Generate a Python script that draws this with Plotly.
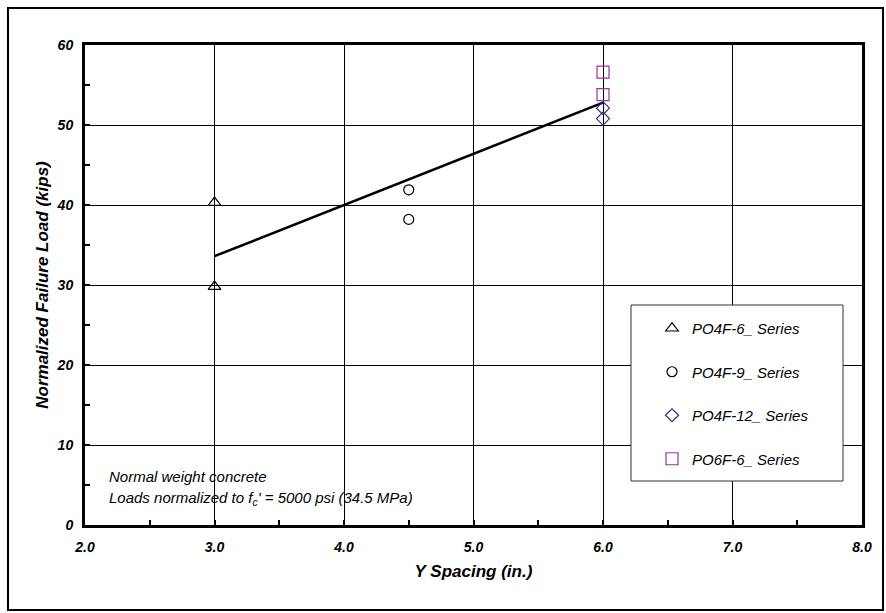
import plotly.graph_objects as go

# ---- data ----
po4f6_x = [3.0, 3.0]
po4f6_y = [40.3, 29.8]
po4f9_x = [4.5, 4.5]
po4f9_y = [41.9, 38.2]
po4f12_x = [6.0, 6.0]
po4f12_y = [52.1, 50.8]
po6f6_x = [6.0, 6.0]
po6f6_y = [56.6, 53.8]
trend_x = [3.0, 6.0]
trend_y = [33.6, 52.8]

x_ticks = [2, 3, 4, 5, 6, 7, 8]
x_tick_labels = ["2.0", "3.0", "4.0", "5.0", "6.0", "7.0", "8.0"]
y_ticks = [0, 10, 20, 30, 40, 50, 60]

FONT = "Liberation Sans, Arial, sans-serif"

fig = go.Figure()

fig.add_trace(go.Scatter(x=trend_x, y=trend_y, mode="lines",
                         line=dict(color="black", width=2.5),
                         showlegend=False, hoverinfo="skip"))

series = [
    ("PO4F-6_ Series", po4f6_x, po4f6_y, "triangle-up-open", "black", 11),
    ("PO4F-9_ Series", po4f9_x, po4f9_y, "circle-open", "black", 10),
    ("PO4F-12_ Series", po4f12_x, po4f12_y, "diamond-open", "#3a2a8a", 10),
    ("PO6F-6_ Series", po6f6_x, po6f6_y, "square-open", "#993399", 12),
]
for i, (name, xs, ys, sym, col, sz) in enumerate(series):
    fig.add_trace(go.Scatter(
        x=xs, y=ys, mode="markers", name=name, legendgroup=f"g{i}",
        marker=dict(symbol=sym, color=col, size=sz, line=dict(color=col, width=1.2)),
    ))

axis_common = dict(
    showline=True, linecolor="black", linewidth=3, mirror=True,
    showgrid=True, gridcolor="black", gridwidth=1,
    ticks="inside", ticklen=5, tickwidth=2, tickcolor="black",
    zeroline=False,
    tickfont=dict(family=FONT, size=14, color="black", weight="bold", style="italic"),
)

fig.update_xaxes(
    range=[2, 8], tickvals=x_ticks, ticktext=x_tick_labels,
    ticklabelstandoff=7,
    minor=dict(dtick=0.5, ticks="inside", ticklen=5, tickwidth=2, tickcolor="black", showgrid=False),
    title=dict(text="Y Spacing (in.)", standoff=12,
               font=dict(family=FONT, size=17, color="black", weight="bold", style="italic")),
    **axis_common,
)
fig.update_yaxes(
    range=[0, 60], tickvals=y_ticks,
    ticklabelstandoff=6,
    minor=dict(dtick=5, ticks="inside", ticklen=5, tickwidth=2, tickcolor="black", showgrid=False),
    title=dict(text="Normalized Failure Load (kips)", standoff=4,
               font=dict(family=FONT, size=17, color="black", weight="bold", style="italic")),
    **axis_common,
)

# pixel -> paper helpers (plot area spans x 85..862, y 45..525)
L, R, T, B = 85, 862, 45, 525
def px(x): return (x - L) / (R - L)
def py(y): return (B - y) / (B - T)

shapes = [
    dict(type="rect", xref="paper", yref="paper",
         x0=px(631), x1=px(843), y0=py(481), y1=py(305),
         line=dict(color="#333333", width=1), fillcolor="white", layer="above"),
    dict(type="rect", xref="paper", yref="paper",
         x0=px(8), x1=px(883), y0=py(610), y1=py(8),
         line=dict(color="black", width=2), fillcolor="rgba(0,0,0,0)"),
]

fig.update_layout(
    width=886, height=613,
    margin=dict(l=L, r=886 - R, t=T, b=613 - B),
    paper_bgcolor="white", plot_bgcolor="white",
    font=dict(family=FONT, color="black"),
    shapes=shapes,
    legend=dict(
        x=px(652), y=py(312), xanchor="left", yanchor="top",
        bgcolor="rgba(0,0,0,0)", borderwidth=0,
        tracegroupgap=21, traceorder="grouped",
        font=dict(family=FONT, size=15, color="black", style="italic"),
        itemwidth=30,
    ),
    annotations=[
        dict(text="Normal weight concrete", xref="paper", yref="paper",
             x=px(107), y=py(476), xanchor="left", yanchor="middle", showarrow=False,
             font=dict(family=FONT, size=15, color="black", style="italic")),
        dict(text="Loads normalized to f<sub>c</sub>' = 5000 psi (34.5 MPa)", xref="paper", yref="paper",
             x=px(107), y=py(498), xanchor="left", yanchor="middle", showarrow=False,
             font=dict(family=FONT, size=15, color="black", style="italic")),
    ],
)

fig.write_html("out.html")
